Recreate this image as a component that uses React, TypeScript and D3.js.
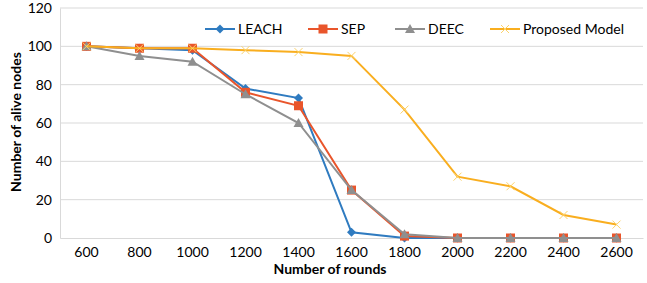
import { useEffect, useRef } from "react";
import * as d3 from "d3";

const width = 647;
const height = 283;
const marginTop = 8;
const marginBottom = 45;
const marginLeft = 60;
const marginRight = 4;

const rounds = ["600", "800", "1000", "1200", "1400", "1600", "1800", "2000", "2200", "2400", "2600"];
const leach = [100, 99, 98, 78, 73, 3, 0, 0, 0, 0, 0];
const sep = [100, 99, 99, 76, 69, 25, 1, 0, 0, 0, 0];
const deec = [100, 95, 92, 75, 60, 25, 2, 0, 0, 0, 0];
const proposed = [100, 99, 99, 98, 97, 95, 67, 32, 27, 12, 7];
const yTicks = [0, 20, 40, 60, 80, 100, 120];

const series = [
  { name: "LEACH", values: leach, color: "#2F7BC0", marker: "diamond" },
  { name: "SEP", values: sep, color: "#E9552B", marker: "square" },
  { name: "DEEC", values: deec, color: "#8F8F8F", marker: "triangle" },
  { name: "Proposed Model", values: proposed, color: "#F9AE1F", marker: "x" },
];
const legendX = [205, 308, 395, 490];

const font = "Lato, 'Open Sans', sans-serif";

function drawMarker(g: any, kind: string, x: number, y: number, color: string) {
  if (kind === "diamond") {
    g.append("path").attr("d", `M${x},${y - 4.5}L${x + 4.5},${y}L${x},${y + 4.5}L${x - 4.5},${y}Z`).attr("fill", color);
  } else if (kind === "square") {
    g.append("rect").attr("x", x - 4.5).attr("y", y - 4.5).attr("width", 9).attr("height", 9).attr("fill", color);
  } else if (kind === "triangle") {
    g.append("path").attr("d", `M${x},${y - 5}L${x + 5},${y + 4}L${x - 5},${y + 4}Z`).attr("fill", color);
  } else {
    g.append("path")
      .attr("d", `M${x - 4},${y - 4}L${x + 4},${y + 4}M${x + 4},${y - 4}L${x - 4},${y + 4}`)
      .attr("stroke", "#FCD36B")
      .attr("stroke-width", 1);
  }
}

const App = () => {
  const ref = useRef<SVGSVGElement>(null);

  useEffect(() => {
    const svg = d3.select(ref.current);
    svg.selectAll("*").remove();

    const x = d3.scaleBand().domain(rounds).range([marginLeft, width - marginRight]);
    const y = d3.scaleLinear().domain([0, 120]).range([height - marginBottom, marginTop]);
    const cx = (i: number) => (x(rounds[i]) as number) + x.bandwidth() / 2;

    // gridlines
    svg.append("g")
      .selectAll("line")
      .data(yTicks.filter((t) => t > 0))
      .join("line")
      .attr("x1", marginLeft)
      .attr("x2", width - marginRight)
      .attr("y1", (d) => y(d))
      .attr("y2", (d) => y(d))
      .attr("stroke", "#D9D9D9");

    // axes
    const yAxis = d3.axisLeft(y).tickValues(yTicks).tickSize(0).tickPadding(8);
    const gy = svg.append("g").attr("transform", `translate(${marginLeft},0)`).call(yAxis);
    gy.select(".domain").attr("stroke", "#D9D9D9");
    gy.selectAll("text").attr("font-size", 14).attr("font-family", font).attr("fill", "#000");

    const xAxis = d3.axisBottom(x).tickSize(0).tickPadding(9);
    const gx = svg.append("g").attr("transform", `translate(0,${height - marginBottom})`).call(xAxis);
    gx.select(".domain").attr("stroke", "#D9D9D9");
    gx.selectAll("text").attr("font-size", 14).attr("font-family", font).attr("fill", "#000");

    // lines
    const line = d3.line<number>().x((_, i) => cx(i)).y((d) => y(d));
    series.forEach((s) => {
      const g = svg.append("g");
      g.append("path")
        .attr("d", line(s.values))
        .attr("fill", "none")
        .attr("stroke", s.color)
        .attr("stroke-width", 2);
      s.values.forEach((v, i) => drawMarker(g, s.marker, cx(i), y(v), s.color));
    });

    // legend
    series.forEach((s, i) => {
      const lx = legendX[i];
      const ly = 29;
      const g = svg.append("g");
      g.append("line").attr("x1", lx).attr("x2", lx + 30).attr("y1", ly).attr("y2", ly).attr("stroke", s.color).attr("stroke-width", 2);
      drawMarker(g, s.marker, lx + 15, ly, s.color);
      g.append("text")
        .attr("x", lx + 33)
        .attr("y", ly + 5)
        .attr("font-size", 14)
        .attr("font-family", font)
        .text(s.name);
    });

    // titles
    svg.append("text")
      .attr("x", 330)
      .attr("y", 274)
      .attr("text-anchor", "middle")
      .attr("font-size", 14)
      .attr("font-weight", "bold")
      .attr("font-family", font)
      .text("Number of rounds");
    svg.append("text")
      .attr("transform", `translate(21,122) rotate(-90)`)
      .attr("text-anchor", "middle")
      .attr("font-size", 14)
      .attr("font-weight", "bold")
      .attr("font-family", font)
      .text("Number of alive nodes");
  }, []);

  return (
    <div style={{ position: "absolute", left: 0, top: 0 }}>
      <svg ref={ref} width={width} height={height} viewBox={`0 0 ${width} ${height}`} style={{ display: "block", background: "#fff" }} />
    </div>
  );
};

export default App;
